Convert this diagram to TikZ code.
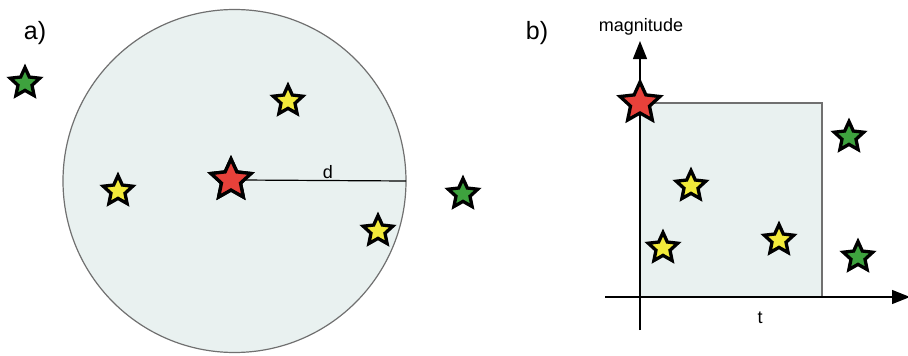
\documentclass[tikz,border=0pt]{standalone}
\usepackage{fontspec}
\setmainfont{Liberation Sans}
\usetikzlibrary{shapes.geometric,arrows.meta}
\definecolor{panelfill}{HTML}{E9F1F0}
\definecolor{panelline}{HTML}{707070}
\definecolor{starred}{HTML}{E8413A}
\definecolor{staryellow}{HTML}{F2EA3A}
\definecolor{stargreen}{HTML}{3EA23E}
\tikzset{
  starbase/.style={star, star points=5, star point ratio=2.1, draw=black, line width=3.3pt, inner sep=0pt, line join=miter},
  redstar/.style={starbase, fill=starred, minimum size=42pt},
  yellowstar/.style={starbase, fill=staryellow, minimum size=31pt},
  greenstar/.style={starbase, fill=stargreen, minimum size=31pt},
  axis/.style={line width=1.4pt, -{Triangle[width=14pt,length=18pt]}},
  lbl/.style={font=\fontsize{18}{20}\selectfont, inner sep=0pt},
  panellbl/.style={font=\fontsize{25}{28}\selectfont, inner sep=0pt}
}
\begin{document}
\begin{tikzpicture}[x=1pt,y=-1pt]
\useasboundingbox (0,0) rectangle (908,356);
% panel a
\node[panellbl] (la) at (35,33) {a)};
\node[circle, draw=panelline, fill=panelfill, line width=1.2pt, minimum size=343pt, inner sep=0pt] (circ) at (234.5,181) {};
\coordinate (dend) at (406,181);
\node[redstar] (ra) at (231,180) {};
\draw[line width=1.2pt] (ra.center) ++(10,0) -- (dend);
\node[redstar] at (ra.center) {};
\node[lbl] (d) at (328,172) {d};
\node[yellowstar] (ya1) at (288,101) {};
\node[yellowstar] (ya2) at (118,191) {};
\node[yellowstar] (ya3) at (378,231) {};
\node[greenstar] (ga1) at (25,83) {};
\node[greenstar] (ga2) at (463,194) {};
% panel b
\node[panellbl] (lb) at (537,33) {b)};
\draw[draw=panelline, fill=panelfill, line width=1.2pt] (640,103) rectangle (822,297);
\coordinate (yb) at (640,330);
\coordinate (yt) at (640,41);
\coordinate (xl) at (605,297);
\coordinate (xr) at (910,297);
\draw[axis] (yb) -- (yt);
\draw[axis] (xl) -- (xr);
\node[lbl] (mag) at (641,27) {magnitude};
\node[lbl] (t) at (760,318) {t};
\node[redstar] (rb) at (640,103) {};
\node[yellowstar] (yb1) at (691,186) {};
\node[yellowstar] (yb2) at (663,248) {};
\node[yellowstar] (yb3) at (779,240) {};
\node[greenstar] (gb1) at (849,137) {};
\node[greenstar] (gb2) at (858,257) {};
\end{tikzpicture}
\end{document}
